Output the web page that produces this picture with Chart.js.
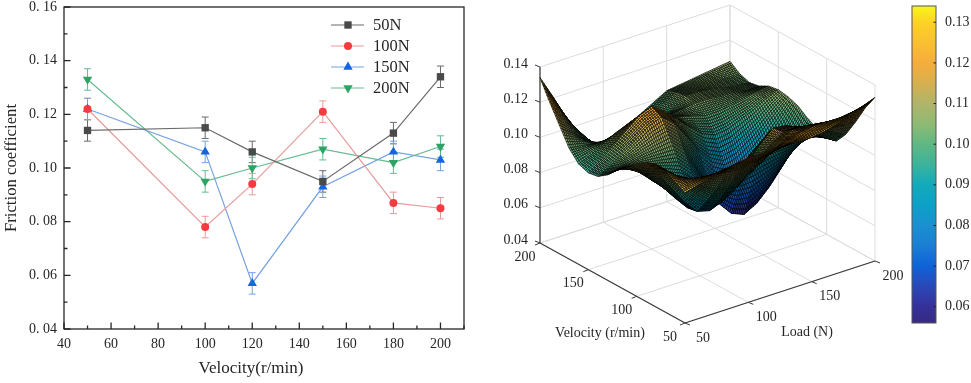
<!DOCTYPE html>
<html>
<head>
<meta charset="utf-8">
<script src="https://cdn.jsdelivr.net/npm/chart.js@4"></script>
<style>
html,body{margin:0;padding:0;background:#fff;}
#wrap{position:relative;width:971px;height:383px;overflow:hidden;}
canvas{position:absolute;top:0;}
</style>
</head>
<body>
<div id="wrap">
<canvas id="lines" width="480" height="383" style="left:0"></canvas>
<canvas id="surface" width="440" height="383" style="left:480px"></canvas>
<canvas id="bar" width="71" height="383" style="left:900px"></canvas>
</div>
<script>
const serif = "'Liberation Serif', serif";
const ink = "#262626";

// line chart
const velocity = [50,100,120,150,180,200];
const n50  = [0.114,0.115,0.106,0.095,0.113,0.134];
const n100 = [0.122,0.078,0.094,0.121,0.087,0.085];
const n150 = [0.122,0.106,0.057,0.093,0.106,0.103];
const n200 = [0.133,0.095,0.100,0.107,0.102,0.108];
const errorBar = 0.004;

// surface, one row per velocity, one column per load
const gridVelocity = [50,60,70,80,90,100,110,120,130,140,150,160,170,180,190,200];
const gridLoad = [50,60,70,80,90,100,110,120,130,140,150,160,170,180,190,200];
const v50  = [.114,.116,.118,.120,.121,.122,.122,.122,.122,.122,.122,.123,.125,.127,.130,.133];
const v60  = [.117,.116,.115,.114,.113,.112,.113,.115,.117,.120,.122,.123,.123,.123,.124,.124];
const v70  = [.120,.115,.110,.105,.101,.100,.101,.105,.110,.116,.120,.120,.119,.117,.115,.113];
const v80  = [.121,.114,.106,.098,.091,.089,.091,.097,.104,.111,.116,.116,.114,.111,.107,.103];
const v90  = [.119,.110,.100,.090,.082,.080,.083,.090,.099,.108,.115,.114,.111,.106,.101,.096];
const v100 = [.115,.107,.098,.089,.081,.078,.080,.086,.093,.100,.106,.106,.104,.101,.098,.095];
const v110 = [.110,.105,.098,.092,.087,.084,.083,.082,.081,.081,.082,.084,.086,.089,.093,.097];
const v120 = [.106,.105,.103,.100,.097,.094,.087,.078,.068,.060,.057,.061,.068,.077,.088,.100];
const v130 = [.100,.102,.104,.105,.106,.107,.100,.088,.076,.067,.063,.066,.073,.082,.093,.104];
const v140 = [.096,.100,.105,.110,.115,.118,.112,.102,.091,.083,.079,.081,.086,.092,.099,.106];
const v150 = [.095,.100,.106,.112,.118,.121,.116,.109,.102,.096,.093,.094,.097,.100,.104,.107];
const v160 = [.097,.100,.104,.108,.111,.113,.111,.108,.105,.103,.101,.101,.102,.103,.105,.106];
const v170 = [.103,.102,.101,.100,.099,.099,.100,.101,.103,.104,.105,.105,.104,.104,.103,.103];
const v180 = [.113,.107,.100,.094,.089,.087,.089,.093,.098,.102,.106,.106,.105,.104,.103,.102];
const v190 = [.123,.114,.104,.095,.088,.084,.086,.091,.096,.101,.105,.105,.105,.105,.104,.104];
const v200 = [.134,.121,.107,.096,.088,.085,.087,.091,.095,.099,.103,.104,.105,.106,.107,.108];
const grid = [v50,v60,v70,v80,v90,v100,v110,v120,v130,v140,v150,v160,v170,v180,v190,v200];

const zTicks = [0.04,0.06,0.08,0.10,0.12,0.14];
const velocityTicks = [50,100,150,200];
const loadTicks = [50,100,150,200];
const barTicks = [0.06,0.07,0.08,0.09,0.10,0.11,0.12,0.13];

const rampValues = [.056,.06,.065,.07,.075,.08,.085,.09,.095,.10,.105,.11,.115,.12,.13,.134];
const rampColors = ["#372a80","#35309a","#2a48b8","#0f62d8","#1b7ed4","#1a90d0","#0da0c8","#12aabb",
  "#3cb39b","#5fb883","#8fba74","#b0b46a","#d6b04f","#f5ad3c","#fdd225","#f7f71a"];

function hex(c){ return [1,3,5].map(i=>parseInt(c.slice(i,i+2),16)); }
function colorAt(z){
  let i = 0;
  while(i<rampValues.length-2 && z>rampValues[i+1]) i++;
  let t = (z-rampValues[i])/(rampValues[i+1]-rampValues[i]);
  t = Math.max(0,Math.min(1,t));
  const a = hex(rampColors[i]), b = hex(rampColors[i+1]);
  return "rgb("+a.map((x,k)=>Math.round(x+(b[k]-x)*t)).join(",")+")";
}

// ---------- left chart ----------
const series = [
  {label:"50N",  data:n50,  line:"#6a6a6a", mark:"#4a4a4a", style:"rect", r:5.2, rot:0},
  {label:"100N", data:n100, line:"#e99a9a", mark:"#f43b3f", style:"circle", r:4, rot:0},
  {label:"150N", data:n150, line:"#74a2e0", mark:"#1565dd", style:"triangle", r:5.4, rot:0},
  {label:"200N", data:n200, line:"#66bc90", mark:"#2da364", style:"triangle", r:5.4, rot:180},
];

const errorPlugin = {
  id:"errors",
  beforeDatasetsDraw(chart){
    const c = chart.ctx, x = chart.scales.x, y = chart.scales.y;
    c.save();
    c.lineWidth = 1;
    chart.data.datasets.forEach(d=>{
      c.strokeStyle = d.borderColor;
      d.data.forEach(p=>{
        const px = x.getPixelForValue(p.x);
        const a = y.getPixelForValue(p.y+errorBar), b = y.getPixelForValue(p.y-errorBar);
        c.beginPath();
        c.moveTo(px,a); c.lineTo(px,b);
        c.moveTo(px-3.5,a); c.lineTo(px+3.5,a);
        c.moveTo(px-3.5,b); c.lineTo(px+3.5,b);
        c.stroke();
      });
    });
    c.restore();
  }
};

const framePlugin = {
  id:"frame",
  afterDraw(chart){
    const c = chart.ctx, a = chart.chartArea;
    c.save();
    c.strokeStyle = ink;
    c.lineWidth = 1.3;
    c.strokeRect(a.left,a.top,a.right-a.left,a.bottom-a.top);
    c.beginPath();
    chart.scales.x.ticks.forEach(t=>{
      const p = chart.scales.x.getPixelForValue(t.value);
      c.moveTo(p,a.bottom); c.lineTo(p,a.bottom-(t.label===""?3.5:6.5));
    });
    chart.scales.y.ticks.forEach(t=>{
      const p = chart.scales.y.getPixelForValue(t.value);
      c.moveTo(a.left,p); c.lineTo(a.left+(t.label===""?3.5:6.5),p);
    });
    c.stroke();
    // x title sits left of the plot centre in the original
    c.fillStyle = ink;
    c.font = "17px "+serif;
    c.textAlign = "center";
    c.textBaseline = "middle";
    c.fillText("Velocity(r/min)",251,369);
    // legend
    chart.data.datasets.forEach((d,i)=>{
      const y = 25+21*i;
      c.strokeStyle = d.borderColor;
      c.lineWidth = 1.2;
      c.beginPath(); c.moveTo(331,y); c.lineTo(364,y); c.stroke();
      c.fillStyle = d.pointBackgroundColor;
      c.strokeStyle = d.pointBackgroundColor;
      Chart.helpers.drawPoint(c,{pointStyle:d.pointStyle,radius:d.pointRadius,rotation:d.pointRotation,borderWidth:0},348,y);
      c.fillStyle = ink;
      c.font = "16.5px "+serif;
      c.textAlign = "left";
      c.textBaseline = "middle";
      c.fillText(d.label,373,y+1);
    });
    c.restore();
  }
};

new Chart(document.getElementById("lines"),{
  type:"line",
  data:{datasets:series.map(s=>({
    label:s.label,
    data:velocity.map((v,i)=>({x:v,y:s.data[i]})),
    borderColor:s.line,
    borderWidth:1.2,
    pointBackgroundColor:s.mark,
    pointBorderColor:s.mark,
    pointBorderWidth:0,
    pointStyle:s.style,
    pointRadius:s.r,
    pointRotation:s.rot,
    tension:0,
  }))},
  options:{
    responsive:false,
    animation:false,
    layout:{padding:{top:7,right:16,left:0,bottom:0}},
    plugins:{legend:{display:false},tooltip:{enabled:false}},
    scales:{
      x:{
        type:"linear",min:40,max:210,
        grid:{display:false,drawTicks:false},border:{display:false},
        afterFit(s){s.height=54;},
        ticks:{stepSize:10,autoSkip:false,maxRotation:0,padding:7,color:ink,font:{family:serif,size:14},
          callback:v=>v%20?"":String(v)},
      },
      y:{
        min:0.04,max:0.16,
        grid:{display:false,drawTicks:false},border:{display:false},
        afterFit(s){s.width=64;s.paddingTop=0;s.paddingBottom=0;},
        ticks:{stepSize:0.01,autoSkip:false,padding:7,color:ink,font:{family:serif,size:14},
          callback:v=>Math.round(v*100)%2?"":v.toFixed(2).replace(".",". ")},
        title:{display:true,text:"Friction coefficient",color:ink,font:{family:serif,size:16.7},padding:{top:2,bottom:0}},
      },
    },
  },
  plugins:[errorPlugin,framePlugin],
});

// ---------- 3D surface ----------
function project(v,l,z){
  const a = (v-50)/150, b = (l-50)/150, h = (z-0.04)/0.1;
  return {x:685-145*a+190*b, y:323-80*a-62*b-176*h};
}
function segment(p,q,color,width){
  return {data:[p,q],borderColor:color,borderWidth:width,pointRadius:0,showLine:true};
}
const wallColor = "#dcdcdc", axisColor = "#3a3a3a";
// first dataset is painted last, so the dark axes go in first
const walls = [
  segment(project(200,50,0.04),project(200,50,0.14),axisColor,1.2),
  segment(project(200,50,0.04),project(50,50,0.04),axisColor,1.2),
  segment(project(50,50,0.04),project(50,200,0.04),axisColor,1.2),
];
zTicks.forEach(z=>{
  walls.push(segment(project(200,50,z),project(200,200,z),wallColor,1));
  walls.push(segment(project(200,200,z),project(50,200,z),wallColor,1));
});
loadTicks.forEach(l=>{
  walls.push(segment(project(200,l,0.04),project(200,l,0.14),wallColor,1));
  walls.push(segment(project(200,l,0.04),project(50,l,0.04),wallColor,1));
});
velocityTicks.forEach(v=>{
  walls.push(segment(project(v,200,0.04),project(v,200,0.14),wallColor,1));
  walls.push(segment(project(v,50,0.04),project(v,200,0.04),wallColor,1));
});

const meshSteps = 7;
const surfacePlugin = {
  id:"surface3d",
  afterDatasetsDraw(chart){
    const c = chart.ctx, sx = chart.scales.x, sy = chart.scales.y;
    const px = (v,l,z)=>{ const p = project(v,l,z); return [sx.getPixelForValue(p.x),sy.getPixelForValue(p.y)]; };
    c.save();
    c.lineJoin = "round";
    // back corner first, front corner last
    for(let i=gridVelocity.length-2;i>=0;i--){
      for(let j=gridLoad.length-2;j>=0;j--){
        const z00=grid[i][j], z01=grid[i][j+1], z10=grid[i+1][j], z11=grid[i+1][j+1];
        const v0=gridVelocity[i], v1=gridVelocity[i+1], l0=gridLoad[j], l1=gridLoad[j+1];
        const at=(s,t)=>{
          const z=(z00*(1-t)+z01*t)*(1-s)+(z10*(1-t)+z11*t)*s;
          return {v:v0+(v1-v0)*s,l:l0+(l1-l0)*t,z};
        };
        for(let a=meshSteps-1;a>=0;a--){
          for(let b=meshSteps-1;b>=0;b--){
            const k=[at(a/meshSteps,b/meshSteps),at(a/meshSteps,(b+1)/meshSteps),
                     at((a+1)/meshSteps,(b+1)/meshSteps),at((a+1)/meshSteps,b/meshSteps)];
            const pts=k.map(q=>px(q.v,q.l,q.z));
            let area=0;
            pts.forEach((p,n)=>{ const q=pts[(n+1)%4]; area+=p[0]*q[1]-q[0]*p[1]; });
            c.beginPath();
            pts.forEach((p,n)=>{ n?c.lineTo(p[0],p[1]):c.moveTo(p[0],p[1]); });
            c.closePath();
            c.fillStyle=colorAt((k[0].z+k[1].z+k[2].z+k[3].z)/4);
            c.fill();
            // squeezed underside cells read as almost black
            if(area>0){
              c.fillStyle="rgba(0,0,0,"+(.85*(1-Math.min(1,area/20)))+")";
              c.fill();
            }
            c.strokeStyle="rgba(0,0,0,.85)";
            c.lineWidth=.75;
            c.stroke();
          }
        }
      }
    }
    c.restore();
  },
  afterDraw(chart){
    const c = chart.ctx, sx = chart.scales.x, sy = chart.scales.y;
    const place=(p,dx,dy)=>[sx.getPixelForValue(p.x)+dx,sy.getPixelForValue(p.y)+dy];
    c.save();
    c.strokeStyle = axisColor;
    c.lineWidth = 1;
    c.fillStyle = ink;
    c.font = "14px "+serif;
    c.textBaseline = "middle";
    c.beginPath();
    zTicks.forEach(z=>{
      const p = project(200,50,z), a = place(p,0,0), b = place(p,-5,-2);
      c.moveTo(a[0],a[1]); c.lineTo(b[0],b[1]);
      const t = place(p,-12,-3);
      c.textAlign = "right";
      c.fillText(z.toFixed(2),t[0],t[1]);
    });
    c.textAlign = "center";
    velocityTicks.forEach(v=>{
      const p = project(v,50,0.04), a = place(p,0,0), b = place(p,-5,2);
      c.moveTo(a[0],a[1]); c.lineTo(b[0],b[1]);
      const t = place(p,-15,14);
      c.fillText(String(v),t[0],t[1]);
    });
    loadTicks.forEach(l=>{
      const p = project(50,l,0.04), a = place(p,0,0), b = place(p,5,2);
      c.moveTo(a[0],a[1]); c.lineTo(b[0],b[1]);
      const t = place(p,18,15);
      c.fillText(String(l),t[0],t[1]);
    });
    c.stroke();
    c.fillText("Velocity (r/min)",sx.getPixelForValue(600),sy.getPixelForValue(333));
    c.fillText("Load (N)",sx.getPixelForValue(807),sy.getPixelForValue(332));
    c.restore();
  }
};

new Chart(document.getElementById("surface"),{
  type:"scatter",
  data:{datasets:walls},
  options:{
    responsive:false,
    animation:false,
    plugins:{legend:{display:false},tooltip:{enabled:false}},
    scales:{
      x:{type:"linear",min:480,max:920,display:false},
      y:{type:"linear",min:0,max:383,reverse:true,display:false},
    },
  },
  plugins:[surfacePlugin],
});

// ---------- colour bar ----------
const barBorder = {
  id:"barBorder",
  afterDraw(chart){
    const c = chart.ctx, a = chart.chartArea, y = chart.scales.y;
    c.save();
    c.strokeStyle = "#555";
    c.lineWidth = 1;
    c.strokeRect(a.left,a.top,a.right-a.left,a.bottom-a.top);
    c.strokeStyle = "#222";
    c.beginPath();
    y.ticks.forEach(t=>{
      const p = y.getPixelForValue(t.value);
      c.moveTo(a.right,p); c.lineTo(a.right-2.5,p);
    });
    c.stroke();
    c.restore();
  }
};

new Chart(document.getElementById("bar"),{
  type:"bar",
  data:{labels:[""],datasets:[{
    data:[[rampValues[0],rampValues[rampValues.length-1]]],
    barPercentage:1,
    categoryPercentage:1,
    backgroundColor(ctx){
      const a = ctx.chart.chartArea;
      if(!a) return "#888";
      const y = ctx.chart.scales.y;
      const g = ctx.chart.ctx.createLinearGradient(0,a.bottom,0,a.top);
      rampValues.forEach((z,i)=>g.addColorStop((z-y.min)/(y.max-y.min),rampColors[i]));
      return g;
    },
  }]},
  options:{
    responsive:false,
    animation:false,
    layout:{padding:{top:6,bottom:60,left:12,right:0}},
    plugins:{legend:{display:false},tooltip:{enabled:false}},
    scales:{
      x:{display:false},
      y:{
        position:"right",
        min:rampValues[0],max:rampValues[rampValues.length-1],
        grid:{display:false,drawTicks:false},border:{display:false},
        afterBuildTicks(s){s.ticks=barTicks.map(v=>({value:v}));},
        afterFit(s){s.width=35;s.paddingTop=0;s.paddingBottom=0;},
        ticks:{padding:9,color:ink,font:{family:serif,size:14},callback:v=>Number(v).toFixed(2)},
      },
    },
  },
  plugins:[barBorder],
});
</script>
</body>
</html>
